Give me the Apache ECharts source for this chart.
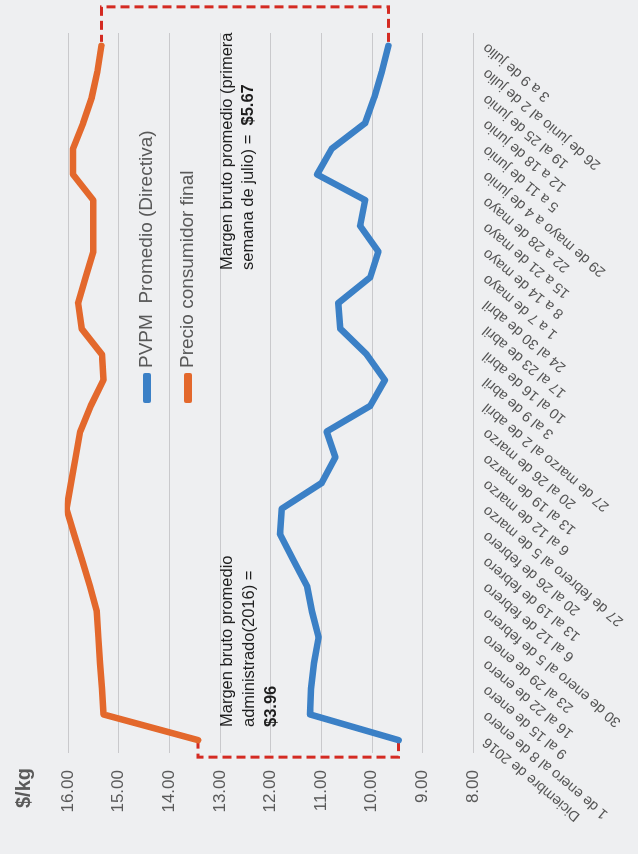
<!DOCTYPE html>
<html><head><meta charset="utf-8">
<script src="https://cdn.jsdelivr.net/npm/echarts@6/dist/echarts.min.js"></script>
<style>
html,body{margin:0;padding:0;background:#eeeff1;width:638px;height:854px;overflow:hidden;}
#chart{position:absolute;left:0;top:0;width:854px;height:638px;transform-origin:0 0;transform:translateY(854px) rotate(-90deg);}
</style></head><body><div id="chart"></div>
<script>
const categories = [
  "Diciembre de 2016", "1 de enero al 8 de enero", "9 al 15 de enero", "16 al 22 de enero",
  "23 al 29 de enero", "30 de enero al 5 de febrero", "6 al 12 de febrero", "13 al 19 de febrero",
  "20 al 26 de febrero", "27 de febrero al 5 de marzo", "6 al 12 de marzo", "13 al 19 de marzo",
  "20 al 26 de marzo", "27 de marzo al 2 de abril", "3 al 9 de abril", "10 al 16 de abril",
  "17 al 23 de abril", "24 al 30 de abril", "1 a 7 de mayo", "8 a 14 de mayo",
  "15 a 21 de mayo", "22 a 28 de mayo", "29 de mayo a 4 de junio", "5 a 11 de junio",
  "12 a 18 de junio", "19 al 25 de junio", "26 de junio al 2 de julio", "3 a 9 de julio"
];
const pvpm = [9.47, 11.22, 11.20, 11.14, 11.05, 11.18, 11.28, 11.55, 11.81, 11.78,
  10.99, 10.72, 10.89, 10.03, 9.74, 10.10, 10.62, 10.66, 10.03, 9.87,
  10.23, 10.13, 11.08, 10.79, 10.13, 9.95, 9.80, 9.67];
const precio = [13.43, 15.30, 15.33, 15.37, 15.40, 15.43, 15.57, 15.72, 15.88, 16.03,
  15.94, 15.85, 15.76, 15.55, 15.30, 15.33, 15.73, 15.80, 15.65, 15.50,
  15.50, 15.50, 15.90, 15.90, 15.70, 15.53, 15.42, 15.34];
const seriesNames = ["PVPM  Promedio (Directiva)", "Precio consumidor final"];
const valueMin = 8, valueMax = 16, valueStep = 1;
const unitLabel = "$/kg";
const last = categories.length - 1;
const bracketData = [[0, pvpm[0], precio[0]], [last, pvpm[last], precio[last]]];

const chart = echarts.init(document.getElementById('chart'), null, {renderer: 'canvas'});
const FONT = "'Liberation Sans', Arial, sans-serif";
chart.setOption({
  backgroundColor: '#eeeff1',
  animation: false,
  title: {text: unitLabel, left: 41, top: 9, textStyle: {fontSize: 20, fontWeight: 'bold', color: '#5a5a5a', fontFamily: FONT}},
  legend: {
    data: seriesNames, orient: 'vertical', left: 446, top: 131,
    itemWidth: 30, itemHeight: 8, itemGap: 19, icon: 'roundRect',
    textStyle: {fontSize: 19, color: '#595959', fontFamily: FONT, lineHeight: 22}
  },
  grid: {left: 101, right: 33, top: 68, bottom: 165, containLabel: false},
  xAxis: {
    type: 'category', data: categories, boundaryGap: true,
    axisLine: {show: false}, axisTick: {show: false},
    axisLabel: {interval: 0, rotate: 50, margin: 12, fontSize: 14.5, color: '#555555', fontFamily: FONT}
  },
  yAxis: {
    type: 'value', min: valueMin, max: valueMax, interval: valueStep,
    axisLine: {show: false}, axisTick: {show: false},
    axisLabel: {formatter: v => v.toFixed(2), fontSize: 17, color: '#5a5a5a', margin: 17, fontFamily: FONT},
    splitLine: {lineStyle: {color: '#c9c9cc', width: 1}}
  },
  graphic: [
    {type: 'text', z: 100, left: 127, top: 216, style: {
      text: 'Margen bruto promedio\nadministrado(2016) =\n{b|$3.96}',
      font: "16.5px 'Liberation Sans', Arial, sans-serif", fill: '#1e1e1e', lineHeight: 22,
      rich: {b: {fontWeight: 'bold', fontSize: 16.5, lineHeight: 22, fill: '#1e1e1e', fontFamily: FONT}}
    }},
    {type: 'text', z: 100, left: 584, top: 217, style: {
      text: 'Margen bruto promedio (primera\nsemana de julio) =  {b|$5.67}',
      font: "16.5px 'Liberation Sans', Arial, sans-serif", fill: '#1e1e1e', lineHeight: 21,
      rich: {b: {fontWeight: 'bold', fontSize: 16.5, lineHeight: 21, fill: '#1e1e1e', fontFamily: FONT}}
    }}
  ],
  series: [
    {name: seriesNames[0], type: 'line', data: pvpm, symbol: 'none', color: '#3b80c6',
      lineStyle: {width: 6.5, color: '#3b80c6', join: 'round', cap: 'round'}, z: 3},
    {name: seriesNames[1], type: 'line', data: precio, symbol: 'none', color: '#e3682c',
      lineStyle: {width: 6.5, color: '#e3682c', join: 'round', cap: 'round'}, z: 3},
    {type: 'custom', data: bracketData, clip: false, z: 2,
      renderItem: function (params, api) {
        const i = api.value(0);
        const a = api.coord([i, api.value(1)]);
        const b = api.coord([i, api.value(2)]);
        const first = params.dataIndex === 0;
        const off = first ? -17 : 39;
        const s = first ? -2 : 4;
        const ox = a[0] + off;
        return {type: 'polyline', shape: {points: [[a[0] + s, a[1]], [ox, a[1]], [ox, b[1]], [b[0] + s, b[1]]]},
          style: {stroke: '#d42a22', lineWidth: 3, lineDash: [9, 5], fill: null}};
      }}
  ]
});
</script></body></html>
